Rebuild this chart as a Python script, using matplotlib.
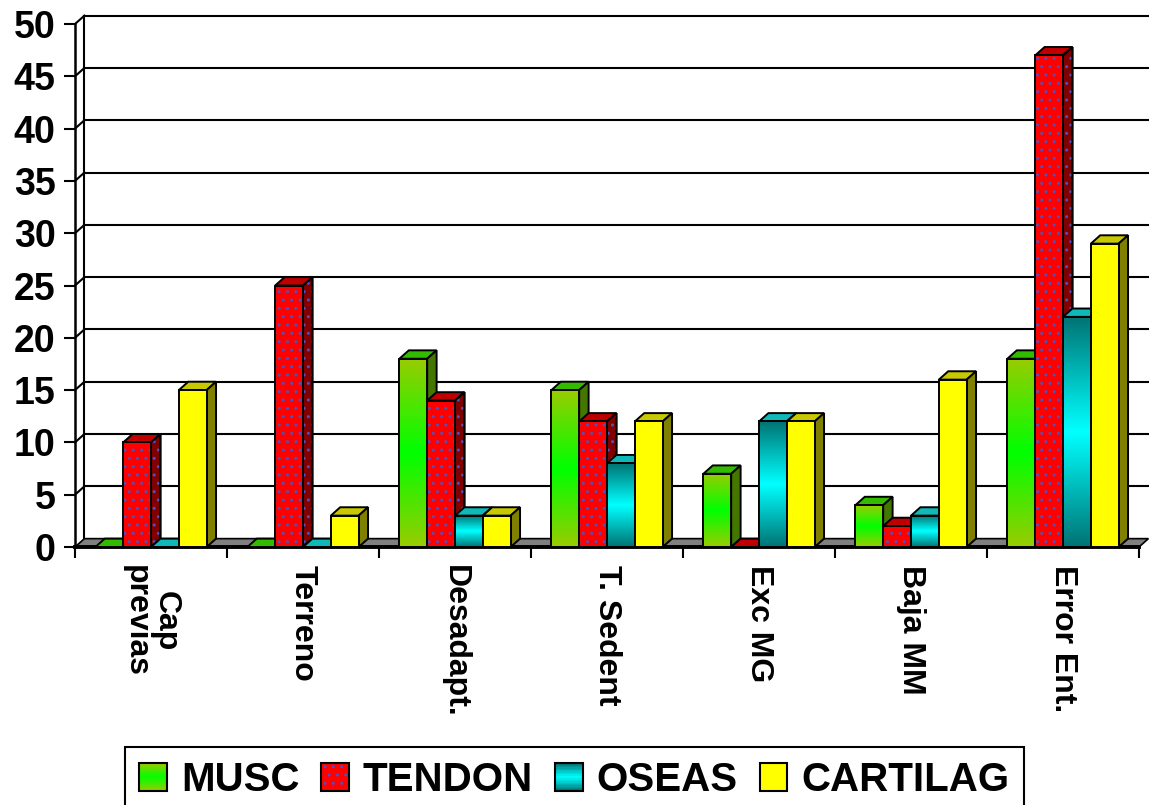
import numpy as np
import matplotlib
matplotlib.use("Agg")
import matplotlib.pyplot as plt
from matplotlib.patches import Rectangle, Polygon, Patch
from matplotlib.colors import LinearSegmentedColormap
from matplotlib.legend_handler import HandlerBase
from matplotlib.transforms import ScaledTranslation

categories = ["Cap\nprevias", "Terreno", "Desadapt.", "T. Sedent", "Exc MG", "Baja MM", "Error Ent."]
series = ["MUSC", "TENDON", "OSEAS", "CARTILAG"]
musc = [0, 0, 18, 15, 7, 4, 18]
tendon = [10, 25, 14, 12, 0, 2, 47]
oseas = [0, 0, 3, 8, 12, 3, 22]
cartilag = [15, 3, 3, 12, 12, 16, 29]
yticks = list(range(0, 51, 5))

plt.rcParams["font.family"] = ["Liberation Sans", "DejaVu Sans"]
plt.rcParams["font.weight"] = "bold"
plt.rcParams["hatch.linewidth"] = 1.0

### styles des séries ###
cmap_musc = LinearSegmentedColormap.from_list("musc", ["#99CC00", "#00FF00"])
cmap_oseas = LinearSegmentedColormap.from_list("oseas", ["#007373", "#00FFFF"])
styles = [
    dict(cmap=cmap_musc, face="#66E000", top="#33BB00", side="#437700", hatch=None),
    dict(cmap=None, face="#FF0000", top="#C00000", side="#800000", hatch=".."),
    dict(cmap=cmap_oseas, face="#00E0E0", top="#10B8B8", side="#006666", hatch=None),
    dict(cmap=None, face="#FFFF00", top="#C8C800", side="#808000", hatch=None),
]
dot_color = "#5050B8"

W = 0.183   # largeur d'une barre (unité = un groupe)
DX = 0.062  # profondeur 3D en x
DY = 0.8    # profondeur 3D en y

fig = plt.figure(figsize=(11.49, 8.05), dpi=100)
ax = fig.add_axes([75 / 1149, (805 - 547) / 805, 1064 / 1149, 523 / 805])
ax.set_xlim(-0.5, 6.5)
ax.set_ylim(0, 50)

# fond : quadrillage sur le mur arrière + petites diagonales
x_left = -0.5
x_right = len(categories) - 0.5
for v in yticks[1:]:
    ax.plot([x_left + DX, x_right + DX], [v + DY, v + DY], color="black", lw=1.5,
            clip_on=False, zorder=1)
    ax.plot([x_left, x_left + DX], [v, v + DY], color="black", lw=1.5, clip_on=False, zorder=1)
ax.plot([x_left + DX, x_left + DX], [DY, 50 + DY], color="black", lw=1.5, clip_on=False, zorder=1)

# sol gris
floor = Polygon([(x_left, 0), (x_right, 0), (x_right + DX, DY), (x_left + DX, DY)],
                closed=True, facecolor="#808080", edgecolor="black", lw=1.2,
                clip_on=False, zorder=2)
ax.add_patch(floor)

data = [musc, tendon, oseas, cartilag]
grad = 1 - np.abs(np.linspace(-1, 1, 200))

z = 3.0
for i in range(len(categories)):
    for j, vals in enumerate(data):
        v = vals[i]
        st = styles[j]
        x0 = i + (j - 2) * W
        x1 = x0 + W
        # face du dessus
        top = Polygon([(x0, v), (x1, v), (x1 + DX, v + DY), (x0 + DX, v + DY)], closed=True,
                      facecolor=st["top"], edgecolor="black", lw=1.4, zorder=z, clip_on=False)
        ax.add_patch(top)
        if v > 0:
            side = Polygon([(x1, 0), (x1 + DX, DY), (x1 + DX, v + DY), (x1, v)], closed=True,
                           facecolor=st["side"], edgecolor="black", lw=1.4, zorder=z, clip_on=False)
            ax.add_patch(side)
            if st["hatch"]:
                ax.add_patch(Polygon(side.get_xy(), closed=True, facecolor="none",
                                     edgecolor=dot_color, hatch=st["hatch"], lw=0,
                                     zorder=z + 0.001, clip_on=False))
                ax.add_patch(Polygon(side.get_xy(), closed=True, fill=False,
                                     edgecolor="black", lw=1.4, zorder=z + 0.002, clip_on=False))
            # face avant
            if st["cmap"] is not None:
                ax.imshow(grad.reshape(-1, 1), extent=[x0, x1, 0, v], cmap=st["cmap"],
                          aspect="auto", origin="lower", interpolation="bilinear",
                          zorder=z + 0.003, clip_on=False)
            else:
                ax.add_patch(Rectangle((x0, 0), W, v, facecolor=st["face"],
                                       edgecolor=dot_color if st["hatch"] else "none",
                                       hatch=st["hatch"], lw=0, zorder=z + 0.003))
            ax.add_patch(Rectangle((x0, 0), W, v, fill=False, edgecolor="black", lw=1.4,
                                   zorder=z + 0.004))
        z += 0.01

ax.set_xlim(-0.5, 6.5)
ax.set_ylim(0, 50)

# axes avant
for s in ["top", "right"]:
    ax.spines[s].set_visible(False)
ax.spines["left"].set_linewidth(1.8)
ax.spines["bottom"].set_linewidth(2.8)
ax.spines["bottom"].set_zorder(2.5)
ax.set_yticks(yticks)
ax.set_yticklabels([str(t) for t in yticks], fontsize=27, fontweight="bold")
ax.tick_params(axis="y", length=8, width=1.5, pad=6)
ax.set_xticks(np.arange(-0.5, len(categories), 1))
ax.set_xticklabels([])
ax.tick_params(axis="x", length=8, width=1.5)

off = ScaledTranslation(0, -0.18, fig.dpi_scale_trans)
for i, cat in enumerate(categories):
    ax.text(i, 0, cat, rotation=-90, ha="center", va="top", multialignment="center",
            fontsize=23, fontweight="bold", linespacing=1.0,
            transform=ax.get_xaxis_transform() + off)


### légende ###
class GradHandler(HandlerBase):
    def __init__(self, st):
        super().__init__()
        self.st = st

    def create_artists(self, legend, orig_handle, xdescent, ydescent, width, height, fontsize, trans):
        st = self.st
        arts = []
        x, y = -xdescent, -ydescent
        if st["cmap"] is not None:
            n = 20
            for k in range(n):
                c = st["cmap"](grad[int((k + 0.5) / n * (len(grad) - 1))])
                arts.append(Rectangle((x, y + k * height / n), width, height / n + 0.3,
                                      facecolor=c, edgecolor="none", transform=trans))
        else:
            arts.append(Rectangle((x, y), width, height, facecolor=st["face"],
                                  edgecolor=dot_color if st["hatch"] else "none",
                                  hatch=st["hatch"], lw=0, transform=trans))
        arts.append(Rectangle((x, y), width, height, fill=False, edgecolor="black", lw=1.5,
                              transform=trans))
        return arts


handles = [Patch(label=s) for s in series]
hmap = {h: GradHandler(st) for h, st in zip(handles, styles)}
leg = fig.legend(handles=handles, labels=series, handler_map=hmap, loc="upper center",
                 bbox_to_anchor=(0.5, (805 - 747) / 805), ncol=4, frameon=True, fancybox=False,
                 framealpha=1, edgecolor="black", prop=dict(size=29, weight="bold"),
                 handlelength=0.68, handleheight=0.68, handletextpad=0.35, columnspacing=0.55,
                 borderpad=0.35, borderaxespad=0)
leg.get_frame().set_linewidth(1.5)

fig.savefig("out.png", dpi=100)
